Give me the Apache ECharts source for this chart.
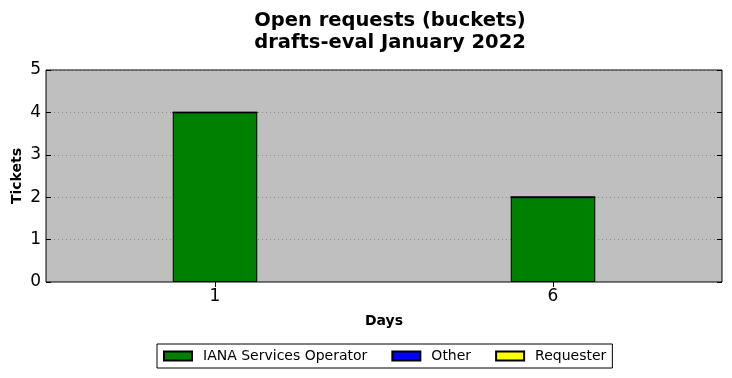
<!DOCTYPE html>
<html>
<head>
<meta charset="utf-8">
<script src="https://cdn.jsdelivr.net/npm/echarts@6/dist/echarts.min.js"></script>
<style>
  html, body { margin: 0; padding: 0; background: #fff; }
  #main { width: 732px; height: 378px; }
</style>
</head>
<body>
<div id="main"></div>
<script>
// 数据
const days = ['1', '6']
const ianaValues = [4, 2]
const otherValues = [0, 0]
const requesterValues = [0, 0]

const myChart = echarts.init(document.getElementById('main'))
const font = 'DejaVu Sans'

const yAxisBase = {
  type: 'value',
  min: 0,
  max: 5,
  interval: 1,
  axisLine: { show: false },
  axisTick: { show: true, inside: true, length: 5, lineStyle: { color: '#000' } }
}
const xAxisBase = {
  type: 'category',
  data: days,
  boundaryGap: true,
  axisLine: { show: false },
  axisTick: { show: true, inside: true, length: 5, alignWithLabel: true, lineStyle: { color: '#000' } },
  splitLine: { show: false }
}
const barStyle = (color) => ({ color: color, borderColor: '#000', borderWidth: 1 })

const option = {
  animation: false,
  textStyle: { fontFamily: font },
  title: {
    text: 'Open requests (buckets)\ndrafts-eval January 2022',
    left: 385,
    textAlign: 'center',
    top: 5,
    textStyle: { fontFamily: font, fontSize: 19.5, fontWeight: 'bold', color: '#000', lineHeight: 22 }
  },
  grid: {
    left: 46,
    right: 10,
    top: 70,
    bottom: 96,
    outerBoundsMode: 'none',
    show: true,
    backgroundColor: '#bfbfbf',
    borderColor: '#000',
    borderWidth: 1
  },
  legend: {
    bottom: 10,
    left: 157,
    icon: 'rect',
    itemWidth: 28,
    itemHeight: 9,
    itemGap: 24,
    padding: [5, 6, 5, 6],
    borderColor: '#000',
    borderWidth: 1,
    borderRadius: 0,
    textStyle: { fontFamily: font, fontSize: 14, color: '#000', padding: [0, 0, 0, 6] },
    data: ['IANA Services Operator', 'Other', 'Requester']
  },
  xAxis: [
    Object.assign({}, xAxisBase, {
      position: 'bottom',
      name: 'Days',
      nameLocation: 'middle',
      nameGap: 32,
      nameMoveOverlap: false,
      nameTextStyle: { fontFamily: font, fontSize: 14, fontWeight: 'bold', color: '#000' },
      axisLabel: { fontFamily: font, fontSize: 17, color: '#000', margin: 6 }
    }),
    Object.assign({}, xAxisBase, {
      position: 'top',
      axisLabel: { show: false }
    })
  ],
  yAxis: [
    Object.assign({}, yAxisBase, {
      position: 'left',
      name: 'Tickets',
      nameLocation: 'middle',
      nameGap: 22,
      nameMoveOverlap: false,
      nameTextStyle: { fontFamily: font, fontSize: 14, fontWeight: 'bold', color: '#000' },
      axisLabel: { fontFamily: font, fontSize: 17, color: '#000', margin: 5 },
      splitLine: { show: true, lineStyle: { color: '#8a8a8a', type: [1, 3], width: 1 } }
    }),
    Object.assign({}, yAxisBase, {
      position: 'right',
      axisLabel: { show: false },
      splitLine: { show: false }
    })
  ],
  series: [
    {
      name: 'IANA Services Operator',
      type: 'bar',
      stack: 'total',
      barWidth: '25%',
      data: ianaValues,
      itemStyle: barStyle('#008000')
    },
    {
      name: 'Other',
      type: 'bar',
      stack: 'total',
      barWidth: '25%',
      data: otherValues,
      itemStyle: barStyle('#0000ff')
    },
    {
      name: 'Requester',
      type: 'bar',
      stack: 'total',
      barWidth: '25%',
      data: requesterValues,
      itemStyle: barStyle('#ffff00')
    }
  ]
}
myChart.setOption(option)
</script>
</body>
</html>
